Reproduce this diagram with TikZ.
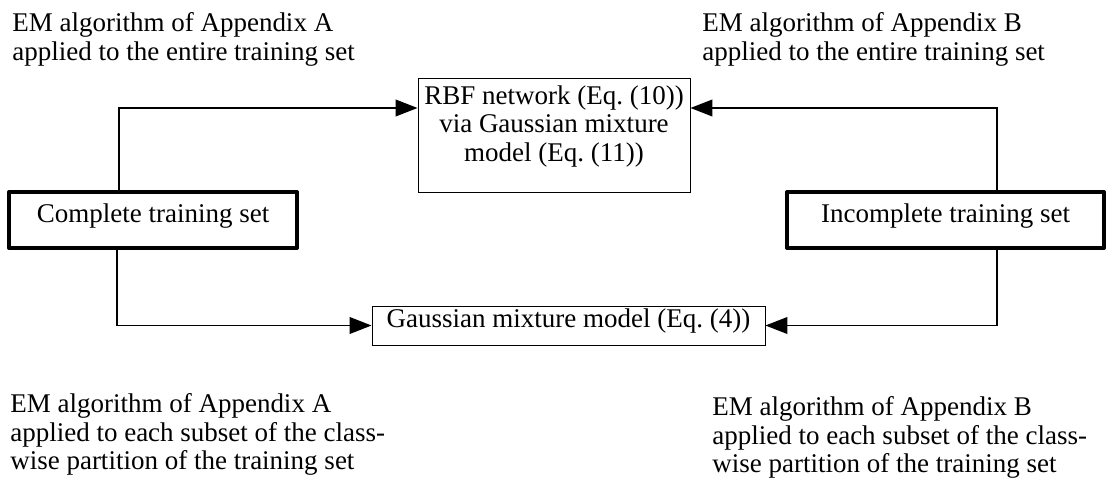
\documentclass[tikz,border=0pt]{standalone}
\usepackage{fontspec}
\setmainfont{Liberation Serif}
\usetikzlibrary{arrows.meta, positioning, calc}

\newcommand{\diagfont}{\fontsize{19.2}{20.3}\selectfont}

\begin{document}
\begin{tikzpicture}[
    x=0.025cm, y=-0.025cm,
    block/.style={rectangle, draw, line width=0.6pt, inner ysep=0pt, align=center, font=\diagfont, text height=0.45cm, text depth=0.35cm},
    setbox/.style={block, line width=2.8pt, line join=round},
    note/.style={anchor=north west, inner sep=0pt, align=left, font=\diagfont},
    arrow/.style={-{Triangle[length=0.55cm, width=0.42cm]}, line width=1pt}
]
\useasboundingbox (0,0) rectangle (1108,486);

% Blocks - Training sets
\node[setbox, minimum width=7.2cm, minimum height=1.4cm] (complete) at (153,220) {Complete training set};
\node[setbox, minimum width=7.925cm, minimum height=1.4cm] (incomplete) at (945.5,220) {Incomplete training set};

% Blocks - Models
\node[block, minimum width=6.8cm, minimum height=2.85cm, text height=, text depth=0.575cm] (rbf) at (554,135) {RBF network (Eq.~(10))\\via Gaussian mixture\\model (Eq.~(11))};
\node[block, minimum width=9.825cm, minimum height=0.975cm] (gmm) at (568.5,325.5) {Gaussian mixture model (Eq.~(4))};

% Arrows - Top
\draw[arrow] ([xshift=-0.85cm]complete.north) |- ([yshift=0.675cm]rbf.west);
\draw[arrow] ([xshift=1.29cm]incomplete.north) |- ([yshift=0.675cm]rbf.east);

% Arrows - Bottom
\draw[arrow] ([xshift=-0.9cm]complete.south) |- (gmm.west);
\draw[arrow] ([xshift=1.29cm]incomplete.south) |- (gmm.east);

% Algorithm labels
\node[note] (emAtop) at (12,12.6) {EM algorithm of Appendix A\\applied to the entire training set};
\node[note] (emBtop) at (702,12.6) {EM algorithm of Appendix B\\applied to the entire training set};
\node[note] (emAbot) at (10,393.6) {EM algorithm of Appendix A\\applied to each subset of the class-\\wise partition of the training set};
\node[note] (emBbot) at (712,396.6) {EM algorithm of Appendix B\\applied to each subset of the class-\\wise partition of the training set};

\end{tikzpicture}
\end{document}
